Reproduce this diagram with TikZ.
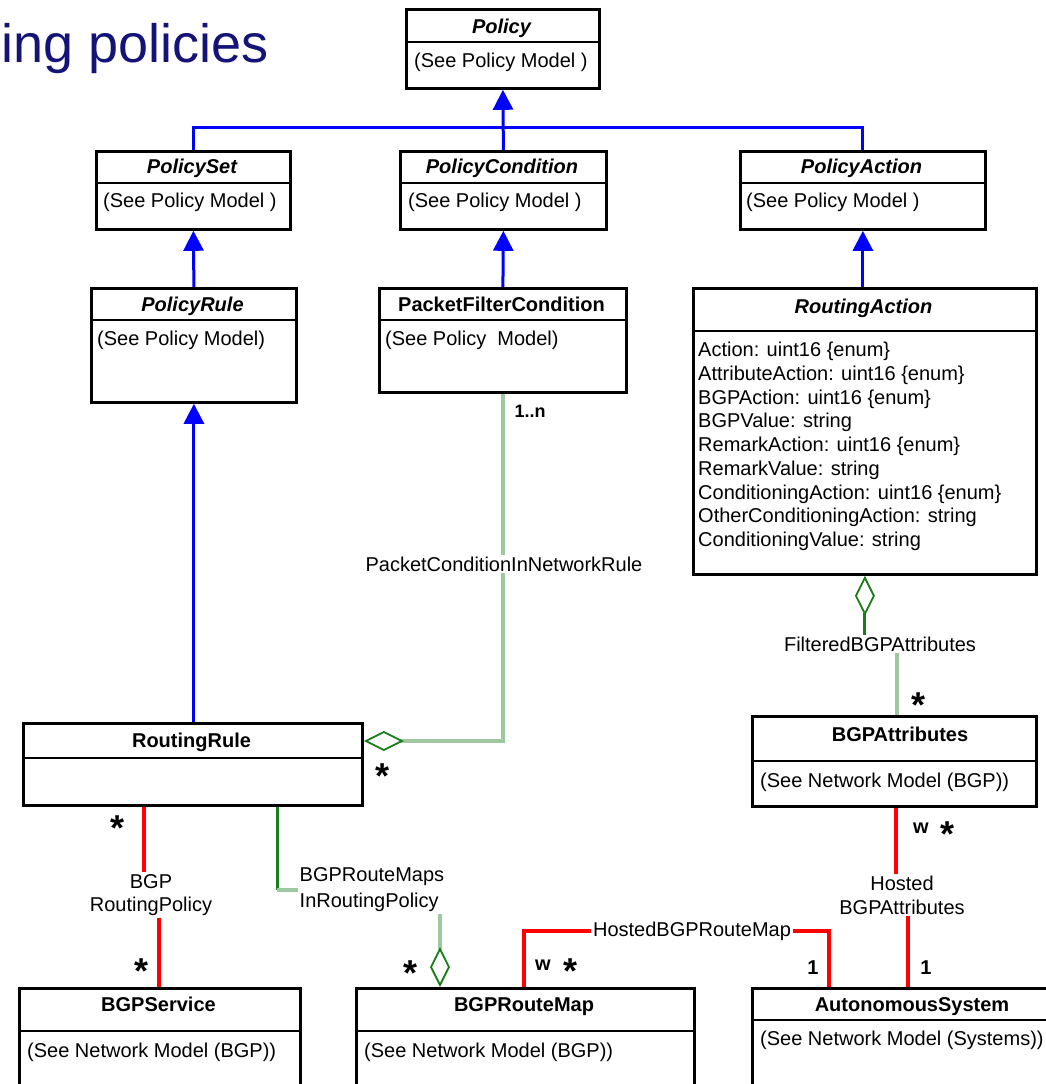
\documentclass[tikz,border=0pt]{standalone}
\usepackage{fontspec}
\setmainfont{Liberation Sans}
\usetikzlibrary{arrows.meta}
\definecolor{titlenavy}{RGB}{20,20,120}
\definecolor{genblue}{RGB}{0,0,255}
\definecolor{assocred}{RGB}{255,0,0}
\definecolor{aggdark}{RGB}{25,125,25}
\definecolor{agglight}{RGB}{160,200,160}
\newcommand\umlfont{\fontsize{20}{23.75}\selectfont}
\tikzset{
  cls/.style={draw=black, line width=2.8pt, fill=white, rectangle, inner sep=0pt, anchor=north west},
  divider/.style={draw=black, line width=2.4pt},
  ctitle/.style={font=\umlfont\bfseries, inner sep=0pt, anchor=base},
  atitle/.style={font=\umlfont\bfseries\itshape, inner sep=0pt, anchor=base},
  cbody/.style={font=\umlfont, inner sep=0pt, anchor=base west},
  lbl/.style={font=\umlfont, fill=white, inner sep=1.5pt},
  mult/.style={font=\umlfont\bfseries, inner sep=0pt, anchor=base},
  starmult/.style={font=\fontsize{36}{36}\selectfont\bfseries, inner sep=0pt, anchor=base},
  genline/.style={draw=genblue, line width=3pt},
  gen/.style={genline, -{Triangle[length=20pt,width=20pt]}},
  assoc/.style={draw=assocred, line width=3.2pt},
  aggdk/.style={draw=aggdark, line width=3pt},
  agglt/.style={draw=agglight, line width=3.2pt},
  diamondtip/.tip={Diamond[length=40pt,width=20pt,line width=1.8pt,color=aggdark,fill=white]},
}
\begin{document}
\begin{tikzpicture}[x=1pt,y=-1pt]
\useasboundingbox (0,0) rectangle (1046,1084);
\clip (0,0) rectangle (1046,1084);

% heading
\node[font=\fontsize{54}{60}\selectfont, text=titlenavy, inner sep=0pt, anchor=base west] (heading) at (1,62) {ing policies};

% ---- class boxes ----
\node[cls, minimum width=193pt, minimum height=79pt] (policy) at (405,8) {};
\draw[divider] (policy.west |- 0,42) -- (policy.east |- 0,42);
\node[atitle] (policyT) at (501.5,33) {Policy};
\node[cbody] (policyB) at (414,67) {(See Policy Model )};

\node[cls, minimum width=194pt, minimum height=78pt] (pset) at (95,150) {};
\draw[divider] (pset.west |- 0,183) -- (pset.east |- 0,183);
\node[atitle] (psetT) at (192,173) {PolicySet};
\node[cbody] (psetB) at (103,207) {(See Policy Model )};

\node[cls, minimum width=206pt, minimum height=78pt] (pcond) at (399,150) {};
\draw[divider] (pcond.west |- 0,183) -- (pcond.east |- 0,183);
\node[atitle] (pcondT) at (502,173) {PolicyCondition};
\node[cbody] (pcondB) at (408,207) {(See Policy Model )};

\node[cls, minimum width=245pt, minimum height=78pt] (paction) at (739,150) {};
\draw[divider] (paction.west |- 0,183) -- (paction.east |- 0,183);
\node[atitle] (pactionT) at (861.5,173) {PolicyAction};
\node[cbody] (pactionB) at (746,207) {(See Policy Model )};

\node[cls, minimum width=205pt, minimum height=114pt] (prule) at (90,287) {};
\draw[divider] (prule.west |- 0,320) -- (prule.east |- 0,320);
\node[atitle] (pruleT) at (192.5,311) {PolicyRule};
\node[cbody] (pruleB) at (97,345) {(See Policy Model)};

\node[cls, minimum width=247pt, minimum height=104pt] (pfc) at (378,287) {};
\draw[divider] (pfc.west |- 0,320) -- (pfc.east |- 0,320);
\node[ctitle] (pfcT) at (501.5,311) {PacketFilterCondition};
\node[cbody] (pfcB) at (385,345) {(See Policy\ \ Model)};

\node[cls, minimum width=343pt, minimum height=286pt] (raction) at (692,287) {};
\draw[divider] (raction.west |- 0,331) -- (raction.east |- 0,331);
\node[atitle] (ractionT) at (863.5,313) {RoutingAction};
\node[font=\umlfont, inner sep=0pt, anchor=north west, align=left] (ractionB) at (698,342)
  {Action: uint16 \{enum\}\\
   AttributeAction: uint16 \{enum\}\\
   BGPAction: uint16 \{enum\}\\
   BGPValue: string\\
   RemarkAction: uint16 \{enum\}\\
   RemarkValue: string\\
   ConditioningAction: uint16 \{enum\}\\
   OtherConditioningAction: string\\
   ConditioningValue: string};

\node[cls, minimum width=339pt, minimum height=82pt] (rrule) at (22,722) {};
\draw[divider] (rrule.west |- 0,758) -- (rrule.east |- 0,758);
\node[ctitle] (rruleT) at (191.5,747) {RoutingRule};

\node[cls, minimum width=284pt, minimum height=90pt] (bgpattr) at (751,715) {};
\draw[divider] (bgpattr.west |- 0,761) -- (bgpattr.east |- 0,761);
\node[ctitle] (bgpattrT) at (900,741) {BGPAttributes};
\node[cbody] (bgpattrB) at (760,787) {(See Network Model (BGP))};

\node[cls, minimum width=281pt, minimum height=120pt] (bgpsvc) at (18,987) {};
\draw[divider] (bgpsvc.west |- 0,1031) -- (bgpsvc.east |- 0,1031);
\node[ctitle] (bgpsvcT) at (158.5,1011) {BGPService};
\node[cbody] (bgpsvcB) at (27,1057) {(See Network Model (BGP))};

\node[cls, minimum width=338pt, minimum height=120pt] (bgprm) at (355,987) {};
\draw[divider] (bgprm.west |- 0,1031) -- (bgprm.east |- 0,1031);
\node[ctitle] (bgprmT) at (524,1011) {BGPRouteMap};
\node[cbody] (bgprmB) at (364,1057) {(See Network Model (BGP))};

\node[cls, minimum width=324pt, minimum height=120pt] (asys) at (751,987) {};
\draw[divider] (asys.west |- 0,1020) -- (asys.east |- 0,1020);
\node[ctitle] (asysT) at (912,1011) {AutonomousSystem};
\node[cbody] (asysB) at (760,1045) {(See Network Model (Systems))};

% ---- generalisation (inheritance) ----
\coordinate (hub) at (pcond.north |- 0,127);
\draw[gen] (pcond.north) -- (policy.south);
\draw[genline] (pset.north) |- (hub) -| (paction.north);
\draw[gen] (prule.north) -- (pset.south);
\draw[gen] (pfc.north) -- (pcond.north |- pcond.south);
\draw[gen] (paction.south |- raction.north) -- (paction.south);
\draw[gen] (prule.south |- rrule.north) -- (prule.south);

% ---- aggregation: PacketConditionInNetworkRule ----
\draw[agglt, diamondtip-] (rrule.east |- 0,741) -| (pfc.south);
\node[lbl] (lpcnr) at (504,564) {PacketConditionInNetworkRule};
\node[mult, font=\fontsize{18}{20}\selectfont\bfseries] (m1n) at (530,417) {1..n};
\node[starmult] (mstar1) at (383,788) {*};

% ---- aggregation: FilteredBGPAttributes ----
\node[lbl] (lfilt) at (880,644) {FilteredBGPAttributes};
\draw[aggdk, diamondtip-] (raction.south) -- (raction.south |- lfilt.north);
\draw[agglt] (897,0 |- lfilt.south) -- (897,0 |- bgpattr.north);
\node[starmult] (mstar2) at (918,717) {*};

% ---- aggregation: BGPRouteMapsInRoutingPolicy ----
\node[lbl, align=left, anchor=west, font=\fontsize{20}{26}\selectfont] (lrmaps) at (298,890) {BGPRouteMaps\\InRoutingPolicy};
\coordinate (rmbend) at (277,890);
\draw[aggdk] (277,0 |- rrule.south) -- (rmbend);
\draw[agglt] (rmbend) -- (lrmaps.west);
\draw[agglt, -diamondtip] (440,0 |- lrmaps.south) -- (440,0 |- bgprm.north);
\node[starmult] (mstar3) at (410,985) {*};

% ---- association: BGPRoutingPolicy ----
\node[lbl, align=center] (lbgp) at (151,895) {BGP\\RoutingPolicy};
\draw[assoc] (144,0 |- rrule.south) -- (144,0 |- lbgp.north);
\draw[assoc] (159,0 |- lbgp.south) -- (159,0 |- bgpsvc.north);
\node[starmult] (mstar4) at (118,840) {*};
\node[starmult] (mstar5) at (142,983) {*};

% ---- association: HostedBGPAttributes ----
\node[lbl, align=center] (lhost) at (902,895) {Hosted\\BGPAttributes};
\draw[assoc] (896,0 |- bgpattr.south) -- (896,0 |- lhost.north);
\draw[assoc] (908,0 |- lhost.south) -- (908,0 |- asys.north);
\node[mult] (mw1) at (921,833) {w};
\node[starmult] (mstar6) at (947,846) {*};
\node[mult] (m1a) at (926,974) {1};

% ---- association: HostedBGPRouteMap ----
\node[lbl] (lhrm) at (692,931) {HostedBGPRouteMap};
\draw[assoc] (524,0 |- bgprm.north) |- (lhrm.west);
\draw[assoc] (lhrm.east) -| (829,0 |- asys.north);
\node[mult] (mw2) at (543,970) {w};
\node[starmult] (mstar7) at (570,983) {*};
\node[mult] (m1b) at (813,974) {1};
\end{tikzpicture}
\end{document}
